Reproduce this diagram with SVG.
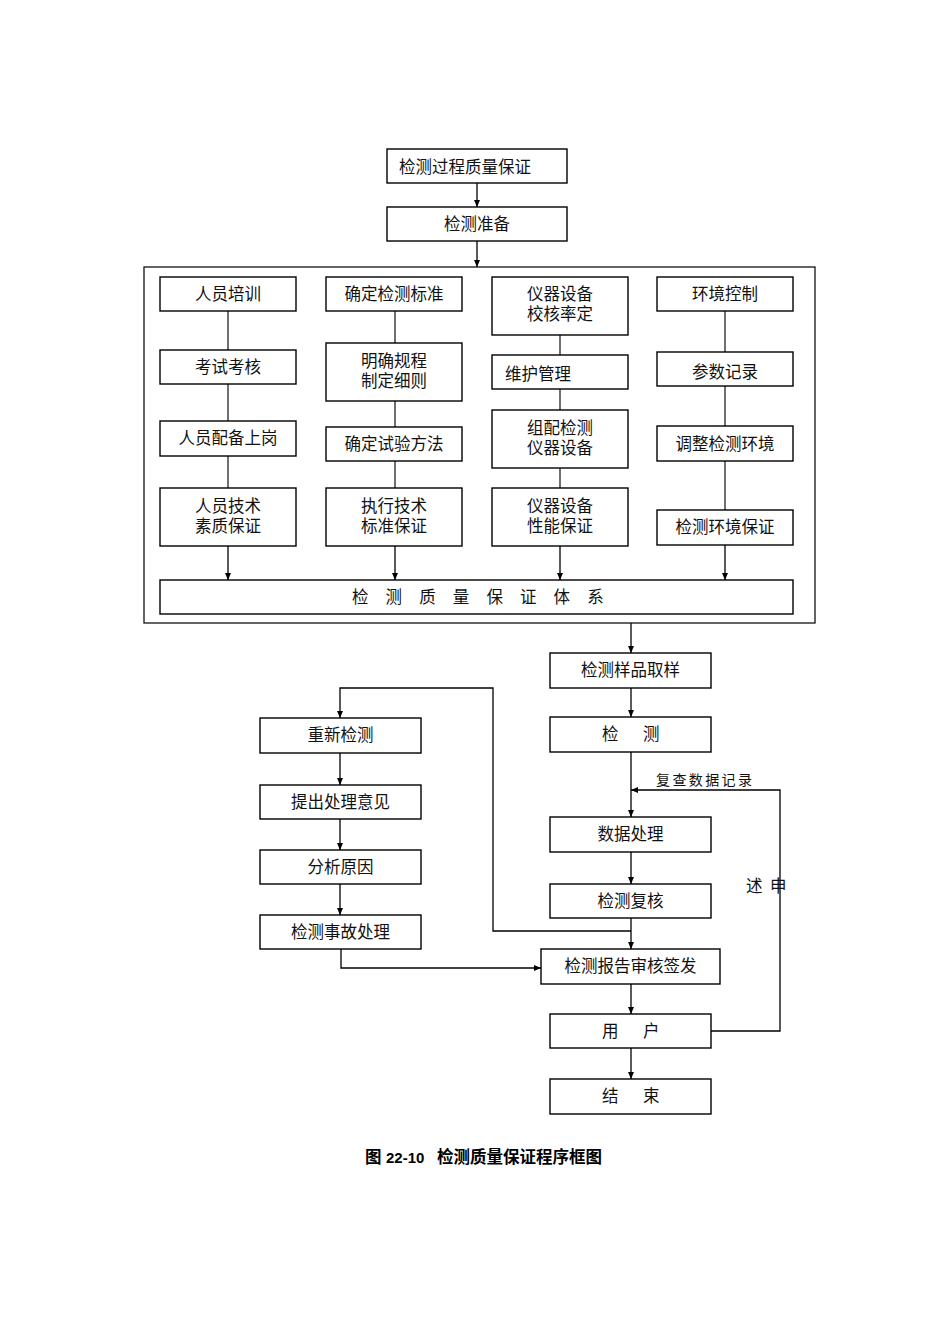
<svg xmlns="http://www.w3.org/2000/svg" width="950" height="1344" viewBox="0 0 950 1344">
<defs>
<marker id="arr" markerWidth="7" markerHeight="6" refX="7" refY="3" orient="auto" markerUnits="userSpaceOnUse"><path d="M0,0 L7,3 L0,6 z" fill="#000"/></marker>
<style>
.box{fill:#fff;stroke:#000;stroke-width:1.4}
.frame{fill:none;stroke:#111;stroke-width:1.3}
.ln{fill:none;stroke:#222;stroke-width:1.3}
.ar{fill:none;stroke:#000;stroke-width:1.3;marker-end:url(#arr)}
text{font-family:"Liberation Serif","Noto Sans CJK SC",serif;font-size:16.5px;fill:#111;dominant-baseline:central}
.c{text-anchor:middle}
.lbl{font-size:14px;letter-spacing:2.4px}
.cap{font-family:"Liberation Sans","Noto Sans CJK SC",sans-serif;font-weight:bold;font-size:16.5px;fill:#000}
</style>
</defs>
<rect width="950" height="1344" fill="#fff"/>

<g id="connectors">
<line class="ar" x1="477" y1="183" x2="477" y2="207"/>
<line class="ar" x1="477" y1="241" x2="477" y2="267"/>
<line class="ln" x1="228" y1="311" x2="228" y2="350"/>
<line class="ln" x1="228" y1="384" x2="228" y2="421"/>
<line class="ln" x1="228" y1="456" x2="228" y2="488"/>
<line class="ar" x1="228" y1="546" x2="228" y2="580"/>
<line class="ln" x1="395" y1="311" x2="395" y2="343"/>
<line class="ln" x1="395" y1="401" x2="395" y2="427"/>
<line class="ln" x1="395" y1="461" x2="395" y2="488"/>
<line class="ar" x1="395" y1="546" x2="395" y2="580"/>
<line class="ln" x1="560" y1="335" x2="560" y2="355"/>
<line class="ln" x1="560" y1="389" x2="560" y2="410"/>
<line class="ln" x1="560" y1="468" x2="560" y2="488"/>
<line class="ar" x1="560" y1="546" x2="560" y2="580"/>
<line class="ln" x1="725" y1="311" x2="725" y2="352"/>
<line class="ln" x1="725" y1="386" x2="725" y2="426"/>
<line class="ln" x1="725" y1="461" x2="725" y2="510"/>
<line class="ar" x1="725" y1="545" x2="725" y2="580"/>
<line class="ar" x1="631" y1="623" x2="631" y2="653"/>
<line class="ar" x1="631" y1="688" x2="631" y2="717"/>
<line class="ar" x1="631" y1="752" x2="631" y2="817"/>
<polyline class="ar" points="711,1031 780,1031 780,790 631,790"/>
<line class="ar" x1="631" y1="852" x2="631" y2="884"/>
<line class="ar" x1="631" y1="918" x2="631" y2="949"/>
<polyline class="ar" points="631,931 493,931 493,688 340,688 340,718"/>
<line class="ar" x1="340" y1="753" x2="340" y2="785"/>
<line class="ar" x1="340" y1="819" x2="340" y2="850"/>
<line class="ar" x1="340" y1="884" x2="340" y2="915"/>
<polyline class="ar" points="341,949 341,968 541,968"/>
<line class="ar" x1="631" y1="984" x2="631" y2="1014"/>
<line class="ar" x1="631" y1="1048" x2="631" y2="1079"/>
</g>

<g id="frame"><rect class="frame" x="144" y="267" width="671" height="356"/></g>

<g id="n_top"><rect class="box" x="387" y="149" width="180" height="34"/><text x="399" y="167">检测过程质量保证</text></g>
<g id="n_prep"><rect class="box" x="387" y="207" width="180" height="34"/><text class="c" x="477" y="224">检测准备</text></g>

<g id="n_c1a"><rect class="box" x="160" y="277" width="136" height="34"/><text class="c" x="228" y="294">人员培训</text></g>
<g id="n_c1b"><rect class="box" x="160" y="350" width="136" height="34"/><text class="c" x="228" y="367">考试考核</text></g>
<g id="n_c1c"><rect class="box" x="160" y="421" width="136" height="35"/><text class="c" x="228" y="438">人员配备上岗</text></g>
<g id="n_c1d"><rect class="box" x="160" y="488" width="136" height="58"/><text class="c" x="228" y="506">人员技术</text><text class="c" x="228" y="526">素质保证</text></g>

<g id="n_c2a"><rect class="box" x="326" y="277" width="136" height="34"/><text class="c" x="394" y="294">确定检测标准</text></g>
<g id="n_c2b"><rect class="box" x="326" y="343" width="136" height="58"/><text class="c" x="394" y="361">明确规程</text><text class="c" x="394" y="381">制定细则</text></g>
<g id="n_c2c"><rect class="box" x="326" y="427" width="136" height="34"/><text class="c" x="394" y="444">确定试验方法</text></g>
<g id="n_c2d"><rect class="box" x="326" y="488" width="136" height="58"/><text class="c" x="394" y="506">执行技术</text><text class="c" x="394" y="526">标准保证</text></g>

<g id="n_c3a"><rect class="box" x="492" y="277" width="136" height="58"/><text class="c" x="560" y="294">仪器设备</text><text class="c" x="560" y="314">校核率定</text></g>
<g id="n_c3b"><rect class="box" x="492" y="355" width="136" height="34"/><text x="505" y="374">维护管理</text></g>
<g id="n_c3c"><rect class="box" x="492" y="410" width="136" height="58"/><text class="c" x="560" y="428">组配检测</text><text class="c" x="560" y="448">仪器设备</text></g>
<g id="n_c3d"><rect class="box" x="492" y="488" width="136" height="58"/><text class="c" x="560" y="506">仪器设备</text><text class="c" x="560" y="526">性能保证</text></g>

<g id="n_c4a"><rect class="box" x="657" y="277" width="136" height="34"/><text class="c" x="725" y="294">环境控制</text></g>
<g id="n_c4b"><rect class="box" x="657" y="352" width="136" height="34"/><text class="c" x="725" y="372">参数记录</text></g>
<g id="n_c4c"><rect class="box" x="657" y="426" width="136" height="35"/><text class="c" x="725" y="444">调整检测环境</text></g>
<g id="n_c4d"><rect class="box" x="657" y="510" width="136" height="35"/><text class="c" x="725" y="527">检测环境保证</text></g>

<g id="n_system"><rect class="box" x="160" y="580" width="633" height="34"/><text x="352" y="597" style="letter-spacing:17.1px">检测质量保证体系</text></g>

<g id="n_sample"><rect class="box" x="550" y="653" width="161" height="35"/><text class="c" x="630.5" y="670.5">检测样品取样</text></g>
<g id="n_test"><rect class="box" x="550" y="717" width="161" height="35"/><text x="602" y="734.5" style="letter-spacing:24.5px">检测</text></g>
<g id="n_data"><rect class="box" x="550" y="817" width="161" height="35"/><text class="c" x="630.5" y="834.5">数据处理</text></g>
<g id="n_recheck"><rect class="box" x="550" y="884" width="161" height="34"/><text class="c" x="630.5" y="901">检测复核</text></g>
<g id="n_report"><rect class="box" x="541" y="949" width="179" height="35"/><text class="c" x="630.5" y="966.5">检测报告审核签发</text></g>
<g id="n_user"><rect class="box" x="550" y="1014" width="161" height="34"/><text x="602" y="1031" style="letter-spacing:24.5px">用户</text></g>
<g id="n_end"><rect class="box" x="550" y="1079" width="161" height="35"/><text x="602" y="1096.5" style="letter-spacing:24.5px">结束</text></g>

<g id="n_retest"><rect class="box" x="260" y="718" width="161" height="35"/><text class="c" x="340.5" y="735.5">重新检测</text></g>
<g id="n_opinion"><rect class="box" x="260" y="785" width="161" height="34"/><text class="c" x="340.5" y="802">提出处理意见</text></g>
<g id="n_cause"><rect class="box" x="260" y="850" width="161" height="34"/><text class="c" x="340.5" y="867">分析原因</text></g>
<g id="n_accident"><rect class="box" x="260" y="915" width="161" height="34"/><text class="c" x="340.5" y="932">检测事故处理</text></g>

<g id="labels">
<text class="lbl" x="656" y="780">复查数据记录</text>
<text x="746" y="886">述</text>
<text x="770" y="886">申</text>
</g>

<g id="caption">
<text class="cap" x="365" y="1157">图</text>
<text class="cap" x="386" y="1157" style="font-size:15px">22-10</text>
<text class="cap" x="437" y="1157">检测质量保证程序框图</text>
</g>
</svg>
